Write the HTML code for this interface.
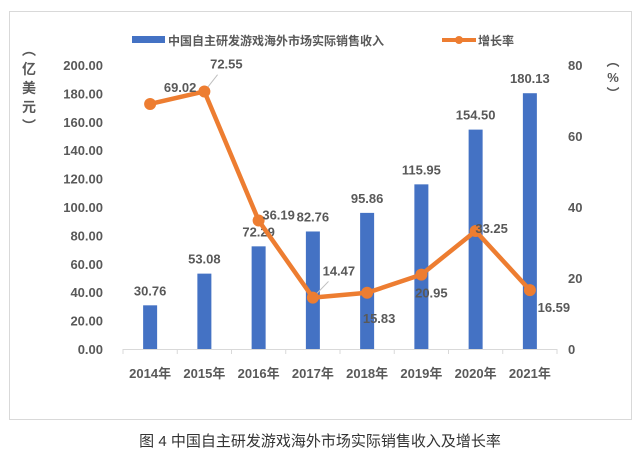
<!DOCTYPE html>
<html><head><meta charset="utf-8"><style>
body{margin:0;background:#fff;}
svg text{font-family:"Liberation Sans","Noto Sans CJK SC",sans-serif;font-weight:bold;fill:#595959;}
</style></head><body>
<svg width="641" height="460">
<rect x="9.5" y="11.5" width="622" height="408" fill="#fff" stroke="#d9d9d9"/>
<g id="g"></g>
<text x="320" y="446" text-anchor="middle" font-size="15" style="font-weight:normal;fill:#333">图 4 中国自主研发游戏海外市场实际销售收入及增长率</text>
</svg>
<script>
const years=["2014年","2015年","2016年","2017年","2018年","2019年","2020年","2021年"];
const revenue=[30.76,53.08,72.29,82.76,95.86,115.95,154.50,180.13];
const growth=[69.02,72.55,36.19,14.47,15.83,20.95,33.25,16.59];
const leftTicks=[0,20,40,60,80,100,120,140,160,180,200];
const rightTicks=[0,20,40,60,80];
const growthLabelOffsets=[[30,-17],[22,-28],[20,-6],[26,-27],[12,25],[10,18],[16,-3],[24,17]];
const NS="http://www.w3.org/2000/svg";
const g=document.getElementById('g');
const x0=123,x1=557,yb=349,yt=65;
const bw=(x1-x0)/years.length;
const xc=i=>x0+bw*(i+0.5);
const yL=v=>yb-(v/200)*(yb-yt);
const yR=v=>yb-(v/80)*(yb-yt);
function mk(t,a,txt){const e=document.createElementNS(NS,t);for(const k in a)e.setAttribute(k,a[k]);if(txt!=null)e.textContent=txt;g.appendChild(e);return e;}
let ax=mk('line',{x1:x0,y1:yb+0.5,x2:x1,y2:yb+0.5,stroke:'#d9d9d9','stroke-width':1});


for(let i=0;i<=years.length;i++){mk('line',{x1:x0+bw*i,y1:yb,x2:x0+bw*i,y2:yb+5,stroke:'#d9d9d9'});}
leftTicks.forEach(v=>{const t=mk('text',{x:103,y:yL(v)+5,'text-anchor':'end','font-size':13},v.toFixed(2));

});
rightTicks.forEach(v=>{const t=mk('text',{x:568,y:yR(v)+5,'font-size':13},String(v));

});
years.forEach((y,i)=>{const t=mk('text',{x:xc(i),y:378,'text-anchor':'middle','font-size':13},y);

});
["︵","亿","美","元","︶"].forEach((c,i)=>{const t=mk('text',{x:29,y:55+i*19,'text-anchor':'middle','font-size':14},c);

});
["︵","%","︶"].forEach((c,i)=>{const t=mk('text',{x:613,y:66+i*16,'text-anchor':'middle','font-size':13},c);

});
revenue.forEach((v,i)=>{const r=mk('rect',{x:xc(i)-7,y:yL(v),width:14,height:yb-yL(v),fill:'#4472C4'});


const t=mk('text',{x:xc(i),y:yL(v)-10,'text-anchor':'middle','font-size':13},v.toFixed(2));

});
const pts=growth.map((v,i)=>xc(i)+','+yR(v)).join(' ');
const pl=mk('polyline',{points:pts,fill:'none',stroke:'#ED7D31','stroke-width':4.5,'stroke-linejoin':'round'});


growth.forEach((v,i)=>{const o=growthLabelOffsets[i];
if(i==1||i==3)mk('line',{x1:xc(i),y1:yR(v),x2:xc(i)+o[0]*0.6,y2:yR(v)+o[1]*0.6,stroke:'#bfbfbf'});
const c=mk('circle',{cx:xc(i),cy:yR(v),r:6,fill:'#ED7D31'});


const t=mk('text',{x:xc(i)+o[0],y:yR(v)+o[1]+5,'text-anchor':'middle','font-size':13},v.toFixed(2));

});
let l1=mk('rect',{x:132,y:36,width:33,height:7,fill:'#4472C4'});


let lt1=mk('text',{x:168,y:45,'font-size':12},'中国自主研发游戏海外市场实际销售收入');


mk('line',{x1:442,y1:40,x2:476,y2:40,stroke:'#ED7D31','stroke-width':4});
let lc=mk('circle',{cx:459,cy:40,r:4,fill:'#ED7D31'});


let lt2=mk('text',{x:478,y:45,'font-size':12},'增长率');


</script>
</body></html>
